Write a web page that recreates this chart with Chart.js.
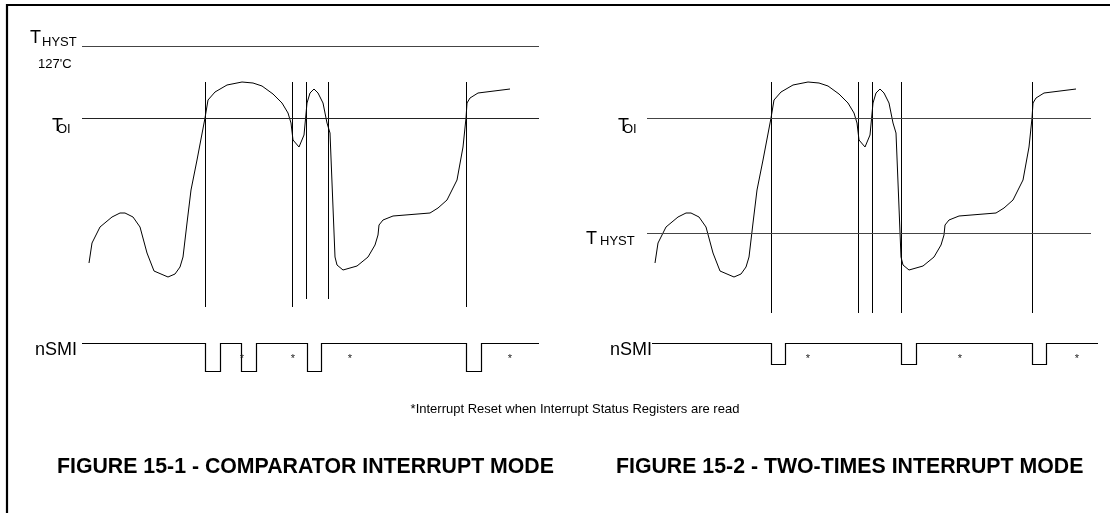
<!DOCTYPE html>
<html>
<head>
<meta charset="utf-8">
<script src="https://cdn.jsdelivr.net/npm/chart.js@4.4.1/dist/chart.umd.min.js"></script>
<style>
  html, body { margin: 0; padding: 0; background: #fff; }
  #wrap { position: relative; width: 1110px; height: 513px; }
</style>
</head>
<body>
<div id="wrap"><canvas id="diagram" width="1110" height="513"></canvas></div>
<script>
var traceTime = [89, 92, 100, 112, 120, 125, 133, 140, 147, 154, 168, 175, 180, 183, 187, 191, 197, 205,
                 208, 215, 227, 242, 253, 262, 273, 282, 288, 291, 293, 299, 304, 307, 310, 314, 318, 323,
                 327, 330, 335, 337, 343, 357, 368, 375, 378, 379, 383, 393, 430, 438, 447, 457, 463, 466,
                 467, 470, 478, 510];
var traceLevel = [263, 243, 227, 217, 213, 213, 217, 227, 253, 271, 277, 274, 267, 257, 223, 190, 160, 118,
                  100, 92, 85, 82, 83, 86, 94, 103, 113, 123, 140, 147, 135, 103, 93, 89, 93, 103,
                  123, 133, 257, 265, 270, 266, 257, 245, 235, 225, 220, 216, 213, 208, 200, 180, 147, 118,
                  103, 98, 93, 89];

// the second figure shows the same trace, shifted in time
var figShift = 566;

// threshold levels
var thystLeft = 46.5;
var toiLevel = 118.5;
var thystRight = 233.5;

// interrupt edges (vertical markers)
var edgesLeft = [205.5, 292.5, 306.5, 328.5, 466.5];
var edgesLeftEnd = [307, 307, 299, 299, 307];
var edgesRight = [771.5, 858.5, 872.5, 901.5, 1032.5];
var edgesRightEnd = [313, 313, 313, 313, 313];
var edgeTop = 82;

// nSMI low pulses [fall, rise]
var pulsesLeft = [[205.5, 220.5], [241.5, 256.5], [307.5, 321.5], [466.5, 481.5]];
var pulsesRight = [[771.5, 785.5], [901.5, 916.5], [1032.5, 1046.5]];
var smiHigh = 343.5;
var smiLowLeft = 371.5;
var smiLowRight = 364.5;

// "*" reset marks
var resetsLeft = [242, 293, 350, 510];
var resetsRight = [808, 960, 1077];

function line(points, width, color) {
    return {
        data: points,
        showLine: true,
        pointRadius: 0,
        borderColor: color || '#000',
        borderWidth: width || 1,
        fill: false,
        tension: 0
    };
}

function hline(x1, x2, y, color) {
    return line([{x: x1, y: y}, {x: x2, y: y}], 1, color);
}

function steps(x1, x2, high, low, pulses) {
    var pts = [{x: x1, y: high}];
    pulses.forEach(function (p) {
        pts.push({x: p[0], y: high}, {x: p[0], y: low}, {x: p[1], y: low}, {x: p[1], y: high});
    });
    pts.push({x: x2, y: high});
    return line(pts, 1.2);
}

var datasets = [];

// frame
datasets.push(line([{x: 7, y: 513}, {x: 7, y: 5}, {x: 1110, y: 5}], 2.2));

// threshold lines
datasets.push(hline(82, 539, thystLeft, '#444'));
datasets.push(hline(82, 539, toiLevel, '#222'));
datasets.push(hline(647, 1091, toiLevel, '#444'));
datasets.push(hline(647, 1091, thystRight, '#444'));

// temperature traces
datasets.push(line(traceTime.map(function (t, i) { return {x: t, y: traceLevel[i]}; })));
datasets.push(line(traceTime.map(function (t, i) { return {x: t + figShift, y: traceLevel[i]}; })));

// edge markers
edgesLeft.forEach(function (x, i) {
    datasets.push(line([{x: x, y: edgeTop}, {x: x, y: edgesLeftEnd[i]}]));
});
edgesRight.forEach(function (x, i) {
    datasets.push(line([{x: x, y: edgeTop}, {x: x, y: edgesRightEnd[i]}]));
});

// nSMI signals
datasets.push(steps(82, 539, smiHigh, smiLowLeft, pulsesLeft));
datasets.push(steps(652, 1098, smiHigh, smiLowRight, pulsesRight));

var FONT = '"Liberation Sans", Arial, Helvetica, sans-serif';

// labels and captions drawn on top of the chart
var labelPlugin = {
    id: 'labels',
    afterDraw: function (chart) {
        var ctx = chart.ctx;
        var xs = chart.scales.x, ys = chart.scales.y;
        function text(str, x, y, size, opts) {
            opts = opts || {};
            ctx.save();
            ctx.font = (opts.bold ? 'bold ' : '') + size + 'px ' + FONT;
            ctx.fillStyle = opts.color || '#000';
            ctx.textAlign = opts.align || 'left';
            ctx.textBaseline = 'alphabetic';
            ctx.fillText(str, xs.getPixelForValue(x), ys.getPixelForValue(y));
            ctx.restore();
        }
        // figure 15-1
        text('T', 30, thystLeft - 4, 18);
        text('HYST', 42, thystLeft - 1, 13);
        text("127'C", 38, 68, 13);
        text('T', 52, toiLevel + 12, 18);
        text('OI', 57, toiLevel + 14, 13);
        text('nSMI', 35, smiHigh + 11, 18);
        // figure 15-2
        text('T', 618, toiLevel + 12, 18);
        text('OI', 623, toiLevel + 14, 13);
        text('T', 586, thystRight + 10, 18);
        text('HYST', 600, thystRight + 11, 13);
        text('nSMI', 610, smiHigh + 11, 18);
        // reset marks
        resetsLeft.concat(resetsRight).forEach(function (x) {
            text('*', x, smiHigh + 18, 11, {align: 'center', color: '#222'});
        });
        text('*Interrupt Reset when Interrupt Status Registers are read', 575, 413, 13, {align: 'center'});
        text('FIGURE 15-1 - COMPARATOR INTERRUPT MODE', 57, 473, 21.3, {bold: true});
        text('FIGURE 15-2 - TWO-TIMES INTERRUPT MODE', 616, 473, 21.3, {bold: true});
    }
};

new Chart(document.getElementById('diagram'), {
    type: 'scatter',
    data: { datasets: datasets },
    options: {
        responsive: false,
        animation: false,
        devicePixelRatio: 1,
        layout: { padding: 0 },
        plugins: { legend: { display: false }, tooltip: { enabled: false } },
        scales: {
            x: { type: 'linear', min: 0, max: 1110, display: false },
            y: { type: 'linear', min: 0, max: 513, reverse: true, display: false }
        }
    },
    plugins: [labelPlugin]
});
</script>
</body>
</html>
